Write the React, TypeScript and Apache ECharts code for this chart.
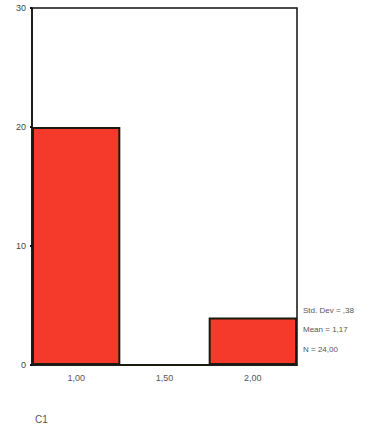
import React, { useEffect, useRef } from "react";
import * as echarts from "echarts";

const categories = ["1,00", "1,50", "2,00"];
const counts = [20, 0, 4];
const yTicks = { min: 0, max: 30, interval: 10 };
const statsLines = ["Std. Dev = ,38", "Mean = 1,17", "N = 24,00"];
const axisTitle = "C1";

export default function App() {
  const ref = useRef<HTMLDivElement>(null);
  useEffect(() => {
    if (!ref.current) return;
    const chart = echarts.init(ref.current, null, { renderer: "svg" });
    chart.setOption({
      animation: false,
      backgroundColor: "#ffffff",
      grid: {
        left: 32,
        top: 8,
        right: 90,
        bottom: 69,
        show: true,
        borderColor: "#111",
        borderWidth: 1.5,
      },
      xAxis: {
        type: "category",
        data: categories,
        boundaryGap: true,
        axisLine: { lineStyle: { color: "#111", width: 1.5 } },
        axisTick: { show: false },
        axisLabel: {
          color: "#555",
          fontSize: 9,
          fontFamily: "Liberation Sans, Arial, sans-serif",
          margin: 8,
        },
      },
      yAxis: {
        type: "value",
        min: yTicks.min,
        max: yTicks.max,
        interval: yTicks.interval,
        splitLine: { show: false },
        axisLine: { show: true, lineStyle: { color: "#111", width: 1.5 } },
        axisTick: { show: true, length: 2, lineStyle: { color: "#111", width: 2 } },
        axisLabel: {
          color: "#444",
          fontSize: 9,
          fontFamily: "Liberation Sans, Arial, sans-serif",
          margin: 6,
        },
      },
      series: [
        {
          type: "bar",
          data: counts,
          barCategoryGap: "0%",
          itemStyle: {
            color: "#f53a2b",
            borderColor: "#1a1a0f",
            borderWidth: 2,
          },
        },
      ],
      graphic: [
        ...statsLines.map((t, i) => ({
          type: "text",
          left: 303,
          top: 306 + i * 19.5,
          style: {
            text: t,
            fill: "#555",
            fontSize: 8,
            fontFamily: "Liberation Sans, Arial, sans-serif",
          },
        })),
        {
          type: "text",
          left: 35,
          top: 414,
          style: {
            text: axisTitle,
            fill: "#555",
            fontSize: 10,
            fontFamily: "Liberation Sans, Arial, sans-serif",
          },
        },
      ],
    });
    return () => chart.dispose();
  }, []);
  return <div ref={ref} style={{ width: 387, height: 434, position: "absolute", left: 0, top: 0 }} />;
}
